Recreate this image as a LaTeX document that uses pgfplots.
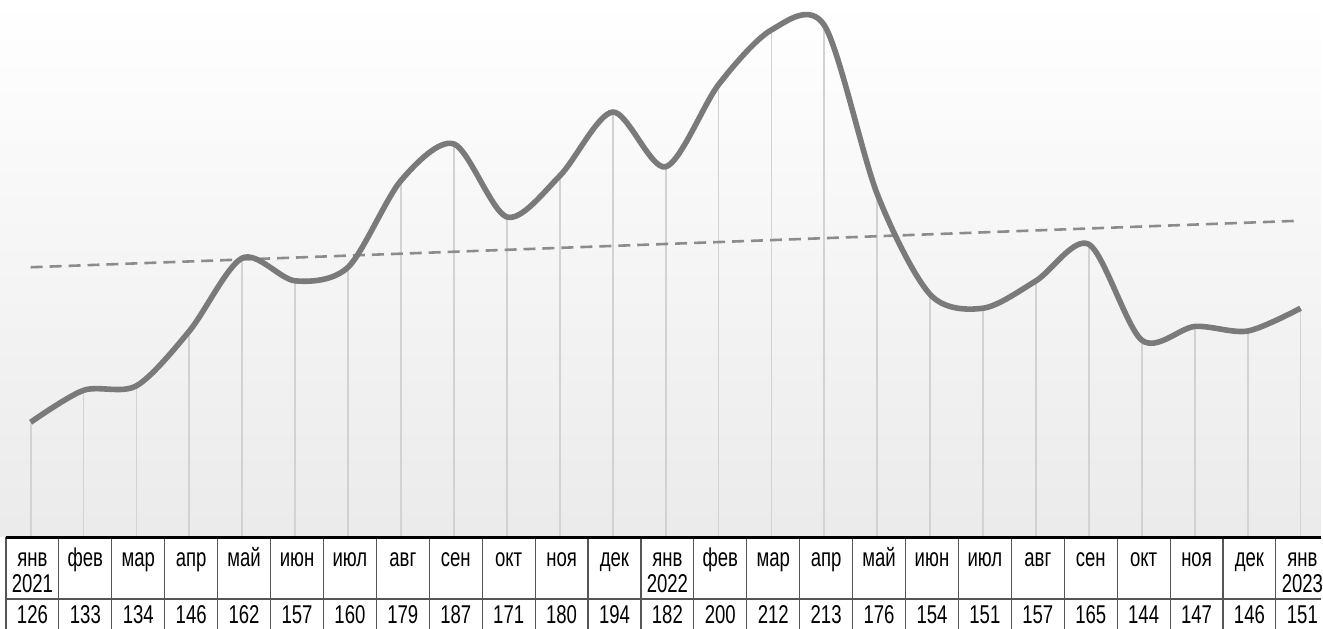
\documentclass[border=0pt]{standalone}
\usepackage{fontspec}
\setmainfont[FakeStretch=0.72]{Liberation Sans}
\usepackage{pgfplots}
\pgfplotsset{compat=1.18}
\usepackage{pgfplotstable}

\definecolor{linegray}{HTML}{7A7A7A}
\definecolor{trendgray}{HTML}{8C8C8C}
\definecolor{dropgray}{HTML}{D2D2D2}
\definecolor{gridline}{HTML}{555555}

% monthly values, Jan 2021 -- Jan 2023
\pgfplotstableread{
x v m
0 126 янв
1 133 фев
2 134 мар
3 146 апр
4 162 май
5 157 июн
6 160 июл
7 179 авг
8 187 сен
9 171 окт
10 180 ноя
11 194 дек
12 182 янв
13 200 фев
14 212 мар
15 213 апр
16 176 май
17 154 июн
18 151 июл
19 157 авг
20 165 сен
21 144 окт
22 147 ноя
23 146 дек
24 151 янв
}\datatable

\begin{document}
\begin{tikzpicture}
\begin{axis}[
  width=661.5pt, height=315pt, scale only axis,
  xmin=-0.579, xmax=24.383, ymin=80.70, ymax=218.56,
  axis lines=none, ticks=none, clip=true,
  every node near coord/.style={anchor=base, inner sep=0pt, font=\fontsize{12.9pt}{14pt}\selectfont, text=black},
]
% soft background
\shade[top color=white, bottom color=black!8] (axis cs:-0.579,100.84) rectangle (axis cs:24.383,218.56);

% drop lines
\addplot[ycomb, draw=dropgray, line width=0.9pt, mark=none] table[x=x, y=v] {\datatable};

% trend line (least squares)
\addplot[draw=trendgray, line width=1.3pt, dash pattern=on 6pt off 3.5pt] coordinates {(0,159.98) (24,170.18)};

% series
\addplot[smooth, tension=0.5, draw=linegray, line width=2.8pt, mark=none] table[x=x, y=v] {\datatable};

% table under the chart
\fill[white] (axis cs:-0.579,80.0) rectangle (axis cs:24.383,100.84);
\pgfplotsinvokeforeach{0,...,25}{
  \draw[gridline, line width=0.55pt] (axis cs:-0.466+#1,100.84) -- (axis cs:-0.466+#1,80.0);
}
\draw[gridline, line width=0.55pt] (axis cs:-0.466,87.27) -- (axis cs:24.6,87.27);
\draw[black, line width=1.5pt] (axis cs:-0.466,100.84) -- (axis cs:24.6,100.84);

% month names
\addplot[draw=none, mark=none, nodes near coords, point meta=explicit symbolic]
  table[x expr=\thisrow{x}+0.034, y expr=94.49, meta=m] {\datatable};
% years
\addplot[draw=none, mark=none, nodes near coords, point meta=explicit symbolic]
  coordinates {(0.034,88.80) [2021] (12.034,88.80) [2022] (24.034,88.80) [2023]};
% values
\addplot[draw=none, mark=none, nodes near coords, point meta=explicit symbolic]
  table[x expr=\thisrow{x}+0.034, y expr=81.80, meta=v] {\datatable};
\end{axis}
\end{tikzpicture}
\end{document}
